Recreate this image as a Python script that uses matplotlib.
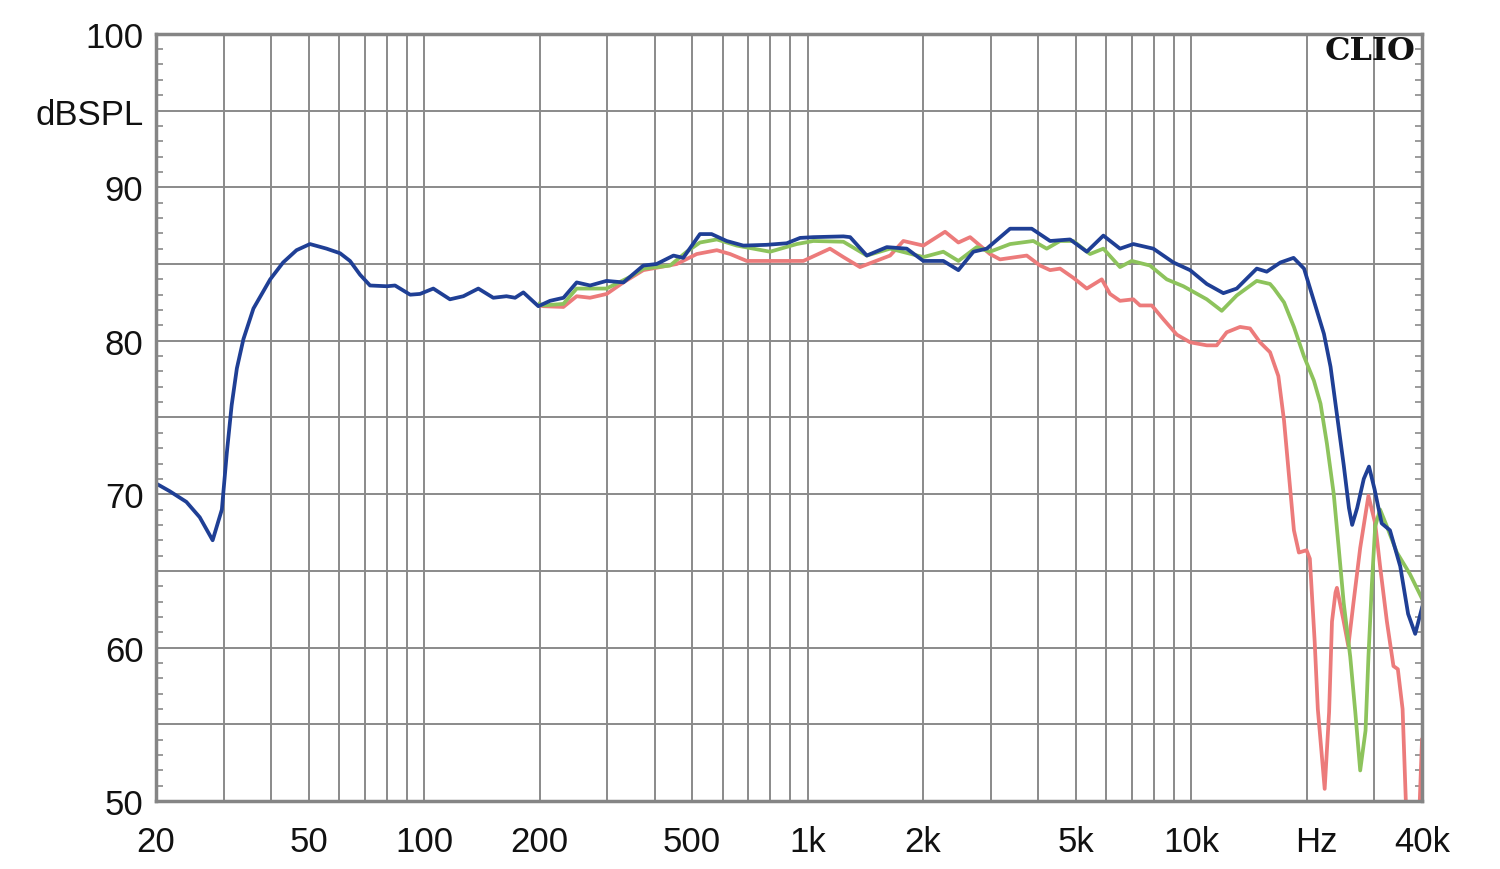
import matplotlib.pyplot as plt
from matplotlib.ticker import FixedLocator, MultipleLocator, NullFormatter

# Frequency response curves (Hz, dBSPL)
blue_f = [20, 21.7, 24.0, 26.0, 28.1, 29.7, 30.6, 31.5, 32.5, 33.8, 35.9, 39.7, 42.9, 46.5,
          50.4, 55.7, 60.4, 64.1, 68.1, 72.3, 80, 84, 92, 97.6, 105.7, 116.8, 126.6, 138.5,
          151.5, 164, 172.7, 181.5, 198.6, 213, 231, 250, 271, 299, 331, 373, 404, 447, 474,
          524, 562, 615, 680, 782, 882, 956, 1035, 1240, 1291, 1427, 1609, 1814, 2004, 2259,
          2473, 2706, 2932, 3373, 3841, 4289, 4836, 5346, 5905, 6527, 7070, 7971, 8991, 9938,
          10987, 12136, 13152, 14832, 15747, 17100, 18500, 19700, 20900, 22200, 23100, 24000,
          25000, 25800, 26300, 27100, 28200, 29100, 30100, 31400, 33000, 35100, 36800, 38400,
          40000]
blue_db = [70.7, 70.2, 69.5, 68.5, 67.0, 69.0, 72.7, 75.8, 78.2, 80.1, 82.1, 84.0, 85.1, 85.9,
           86.3, 86.0, 85.7, 85.2, 84.3, 83.6, 83.55, 83.6, 83.0, 83.05, 83.4, 82.7, 82.9, 83.4,
           82.8, 82.9, 82.8, 83.15, 82.25, 82.6, 82.8, 83.8, 83.6, 83.9, 83.8, 84.9, 85.0, 85.55,
           85.4, 86.95, 86.95, 86.5, 86.2, 86.25, 86.35, 86.7, 86.75, 86.8, 86.75, 85.55, 86.1,
           86.0, 85.2, 85.2, 84.6, 85.8, 86.0, 87.3, 87.3, 86.5, 86.6, 85.8, 86.85, 86.0, 86.3,
           86.0, 85.1, 84.6, 83.7, 83.1, 83.4, 84.7, 84.5, 85.1, 85.4, 84.7, 82.6, 80.45, 78.3,
           75.2, 71.9, 69.1, 68.0, 69.1, 71.0, 71.8, 70.3, 68.1, 67.65, 65.3, 62.2, 60.9, 62.6]

green_f = [200, 204.6, 230.8, 250, 299, 344, 373, 438, 484, 524, 580, 654, 798, 937, 1035,
           1240, 1427, 1641, 2004, 2259, 2473, 2761, 2990, 3373, 3878, 4203, 4553, 4931, 5452,
           5905, 6527, 7000, 7813, 8640, 9548, 10987, 12020, 13152, 14832, 16063, 16450, 17470,
           18540, 19680, 20900, 21750, 22600, 23550, 24260, 25000, 26000, 26800, 27600, 28500,
           29000, 29600, 30200, 31100, 32400, 34400, 37200, 40000]
green_db = [82.4, 82.3, 82.4, 83.4, 83.4, 84.15, 84.7, 84.9, 85.8, 86.4, 86.6, 86.2, 85.8, 86.3,
            86.5, 86.45, 85.55, 86.0, 85.45, 85.8, 85.2, 86.1, 85.8, 86.3, 86.5, 86.0, 86.5, 86.5,
            85.65, 86.0, 84.8, 85.2, 84.9, 84.0, 83.55, 82.7, 81.95, 82.95, 83.9, 83.7, 83.4,
            82.5, 80.9, 79.0, 77.4, 75.9, 73.3, 70.0, 66.5, 62.9, 59.4, 55.8, 52.0, 54.6, 59.4,
            64.1, 67.9, 69.0, 67.9, 66.2, 64.8, 63.2]

red_f = [200, 204.6, 230.8, 250, 270.8, 299.4, 330.8, 373, 456, 514, 580, 628, 694, 798, 975,
         1144, 1240, 1370, 1545, 1641, 1777, 2004, 2283, 2473, 2653, 2990, 3175, 3728, 4039,
         4289, 4553, 4931, 5346, 5848, 6146, 6527, 7070, 7358, 7897, 8466, 9175, 9938, 10987,
         11663, 12382, 13414, 14243, 15122, 16063, 16885, 17470, 18000, 18540, 19100, 20000,
         20400, 21000, 21400, 22300, 22900, 23300, 23800, 24000, 25000, 25700, 26500, 27600,
         29000, 30200, 31100, 32400, 33700, 34600, 35600, 36300, 37700, 38500, 39200, 40000]
red_db = [82.3, 82.25, 82.2, 82.9, 82.8, 83.05, 83.8, 84.6, 85.0, 85.65, 85.9, 85.65, 85.2,
          85.2, 85.2, 86.0, 85.45, 84.8, 85.3, 85.55, 86.5, 86.2, 87.1, 86.4, 86.75, 85.65, 85.3,
          85.55, 84.9, 84.6, 84.7, 84.1, 83.4, 84.0, 83.05, 82.6, 82.7, 82.3, 82.3, 81.4, 80.4,
          79.9, 79.7, 79.7, 80.55, 80.9, 80.8, 79.9, 79.25, 77.7, 74.8, 71.2, 67.65, 66.2, 66.35,
          65.8, 60.4, 56.0, 50.8, 55.8, 61.7, 63.6, 63.9, 61.7, 60.1, 62.9, 66.5, 69.9, 68.1,
          65.3, 61.7, 58.8, 58.6, 56.0, 50.0, 47.0, 46.0, 48.0, 54.0]

# "Hz" sits a little right of the 20k line in the original
x_ticks = [20, 50, 100, 200, 500, 1000, 2000, 5000, 10000, 21200, 40000]
x_labels = ['20', '50', '100', '200', '500', '1k', '2k', '5k', '10k', 'Hz', '40k']
y_ticks = [50, 55, 60, 65, 70, 75, 80, 85, 90, 95, 100]
y_labels = ['50', '', '60', '', '70', '', '80', '', '90', 'dBSPL', '100']

plt.rcParams['font.family'] = ['Liberation Sans', 'DejaVu Sans']

fig = plt.figure(figsize=(15, 8.7), dpi=100)
ax = fig.add_axes([0.104, 0.078, 0.844, 0.882])

ax.plot(red_f, red_db, color='#ec7b7b', linewidth=2.7, zorder=3)
ax.plot(green_f, green_db, color='#8dc35c', linewidth=2.7, zorder=4)
ax.plot(blue_f, blue_db, color='#1f3f95', linewidth=2.7, zorder=5)

ax.set_xscale('log')
ax.set_xlim(20, 40000)
ax.set_ylim(50, 100)

# vertical grid at every 1-2-...-9 step of each decade
grid_x = [m * 10 ** d for d in range(1, 5) for m in range(1, 10) if 20 <= m * 10 ** d <= 40000]
for gx in grid_x:
    ax.axvline(gx, color='#8a8a8a', linewidth=1.4, zorder=1)
for gy in y_ticks:
    ax.axhline(gy, color='#8a8a8a', linewidth=1.4, zorder=1)

ax.xaxis.set_major_locator(FixedLocator(x_ticks))
ax.set_xticklabels(x_labels)
ax.xaxis.set_minor_locator(FixedLocator([]))
ax.xaxis.set_minor_formatter(NullFormatter())
ax.set_yticks(y_ticks)
ax.set_yticklabels(y_labels)
ax.yaxis.set_minor_locator(MultipleLocator(1))

ax.tick_params(axis='both', which='major', length=0, labelsize=25, colors='#111111')
ax.tick_params(axis='x', which='major', pad=17)
ax.tick_params(axis='y', which='major', pad=9)
ax.tick_params(axis='y', which='minor', direction='in', length=5, width=1.2,
               color='#8a8a8a', left=True, right=True)

for sp in ax.spines.values():
    sp.set_color('#858585')
    sp.set_linewidth(2.5)
    sp.set_zorder(6)

ax.text(0.995, 0.998, 'CLIO', transform=ax.transAxes, ha='right', va='top',
        fontsize=23, fontweight='bold', family='DejaVu Serif', color='#111111', zorder=7)

fig.savefig('out.png', dpi=100, facecolor='white')
